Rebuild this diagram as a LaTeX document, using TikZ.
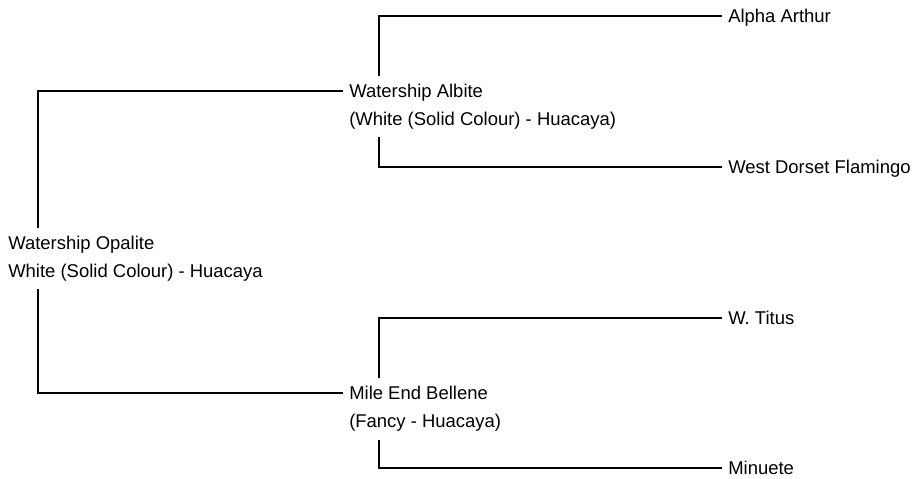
\documentclass[tikz,border=0pt]{standalone}
\usepackage{fontspec}
\setmainfont{Liberation Sans}
\usetikzlibrary{calc}
\begin{document}
\begin{tikzpicture}[x=0.75pt,y=-0.75pt,
  lbl/.style={anchor=west,inner xsep=4.5pt,inner ysep=0pt,text height=10pt,text depth=0pt,
    font=\fontsize{13.85pt}{16.5pt}\selectfont,text=black},
  conn/.style={draw=black,line width=0.85pt}]
\useasboundingbox (0,0) rectangle (913,478);
% people
\node[lbl] (root) at (2,243) {Watership Opalite};
\node[lbl] (rootsub) at (2,271) {White (Solid Colour) - Huacaya};
\node[lbl] (albite) at (343,91) {Watership Albite};
\node[lbl] (albitesub) at (343,119) {(White (Solid Colour) - Huacaya)};
\node[lbl] (mile) at (343,393) {Mile End Bellene};
\node[lbl] (milesub) at (343,421) {(Fancy - Huacaya)};
\node[lbl] (alpha) at (722,16) {Alpha Arthur};
\node[lbl] (wdf) at (722,167) {West Dorset Flamingo};
\node[lbl] (titus) at (722,318) {W. Titus};
\node[lbl] (minuete) at (722,468) {Minuete};
% connectors
\draw[conn] ($(root.north west)+(36,-8.5)$) |- (albite.west);
\draw[conn] ($(rootsub.south west)+(36,11)$) |- (mile.west);
\draw[conn] ($(albite.north west)+(36,-8)$) |- (alpha.west);
\draw[conn] ($(albitesub.south west)+(36,11)$) |- (wdf.west);
\draw[conn] ($(mile.north west)+(36,-8)$) |- (titus.west);
\draw[conn] ($(milesub.south west)+(36,12)$) |- (minuete.west);
\end{tikzpicture}
\end{document}
